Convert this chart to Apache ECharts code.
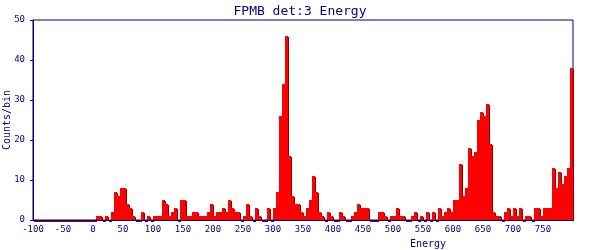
<!DOCTYPE html>
<html>
<head>
<meta charset="utf-8">
<script src="https://cdn.jsdelivr.net/npm/echarts@6/dist/echarts.min.js"></script>
<style>html,body{margin:0;padding:0;background:#fff}#c{width:600px;height:250px}</style>
</head>
<body>
<div id="c"></div>
<script>
// Histogram: bins of width 5 from -100 to 800
const firstEdge = -100;
const binWidth = 5;
const countsNeg100_0 = [0,0,0,0,0,0,0,0,0,0,0,0,0,0,0,0,0,0,0,0];
const counts0_100   = [0,1,1,0,1,0,2,7,6,8,8,4,3,1,0,0,2,0,1,0];
const counts100_200 = [1,1,1,5,4,1,2,3,0,5,5,1,1,2,2,1,1,1,2,4];
const counts200_300 = [1,2,2,3,2,5,3,2,2,0,1,4,1,0,3,1,0,0,3,0];
const counts300_400 = [3,7,26,34,46,16,6,4,4,2,1,3,5,11,7,2,1,0,2,1];
const counts400_500 = [0,0,2,1,0,0,1,2,4,3,3,3,0,0,0,2,2,1,0,1];
const counts500_600 = [1,3,1,1,0,0,1,2,0,1,0,2,0,2,0,3,1,2,3,2];
const counts600_700 = [5,5,14,6,8,18,16,17,25,27,26,29,19,2,1,1,0,2,3,1];
const counts700_800 = [3,1,3,0,1,1,0,3,3,1,3,3,3,13,8,12,9,11,13,38];

const titleText = 'FPMB det:3 Energy';
const xName = 'Energy';
const yName = 'Counts/bin';

const counts = [].concat(countsNeg100_0, counts0_100, counts100_200, counts200_300,
  counts300_400, counts400_500, counts500_600, counts600_700, counts700_800);
const data = counts.map((c, i) => [firstEdge + i * binWidth, firstEdge + (i + 1) * binWidth, c]);

const navy = '#000080';
const mono = 'DejaVu Sans Mono';
const chart = echarts.init(document.getElementById('c'), null, {renderer: 'canvas'});
chart.setOption({
  animation: false,
  backgroundColor: '#fff',
  title: {
    text: titleText, left: 'center', top: 0,
    textStyle: {color: navy, fontFamily: mono, fontSize: 13, fontWeight: 'normal'}
  },
  grid: {left: 33, right: 27, top: 20, bottom: 30, containLabel: false, outerBoundsMode: 'none',
    show: true, borderColor: navy, borderWidth: 1, backgroundColor: 'transparent'},
  xAxis: {
    type: 'value', min: -100, max: 800, interval: 50, z: 10,
    name: xName, nameLocation: 'middle', nameGap: 19, nameMoveOverlap: false,
    nameTextStyle: {color: navy, fontFamily: mono, fontSize: 10, padding: [0, 0, 0, 250]},
    axisLine: {show: true, onZero: false, lineStyle: {color: navy, width: 1}},
    axisTick: {show: false},
    splitLine: {show: false},
    axisLabel: {color: navy, fontFamily: mono, fontSize: 9, margin: 5, showMaxLabel: false}
  },
  yAxis: {
    type: 'value', min: 0, max: 50, interval: 10, z: 10,
    name: yName, nameLocation: 'middle', nameGap: 21, nameRotate: 90, nameMoveOverlap: false,
    nameTextStyle: {color: navy, fontFamily: mono, fontSize: 10},
    axisLine: {show: true, onZero: false, lineStyle: {color: navy, width: 1}},
    axisTick: {show: true, length: 3, inside: false, lineStyle: {color: navy}},
    splitLine: {show: false},
    axisLabel: {color: navy, fontFamily: mono, fontSize: 9, margin: 8}
  },
  series: [{
    type: 'custom', z: 1,
    encode: {x: [0, 1], y: 2},
    data: data,
    renderItem: function (params, api) {
      const lo = api.value(0), hi = api.value(1), c = api.value(2);
      const p0 = api.coord([lo, c]);
      const p1 = api.coord([hi, 0]);
      const x = p0[0], w = p1[0] - p0[0], y = p0[1], h = p1[1] - p0[1];
      const children = [];
      if (c > 0) {
        children.push({type: 'rect', shape: {x: x + 1, y: y + 1, width: w, height: h}, style: {fill: '#8b0000'}});
        children.push({type: 'rect', shape: {x: x, y: y, width: w, height: h}, style: {fill: '#ff0000'}});
      } else {
        children.push({type: 'rect', shape: {x: x + 1, y: p1[1] + 1, width: w, height: 1}, style: {fill: '#8b0000'}});
      }
      return {type: 'group', children: children};
    }
  }]
});
</script>
</body>
</html>
